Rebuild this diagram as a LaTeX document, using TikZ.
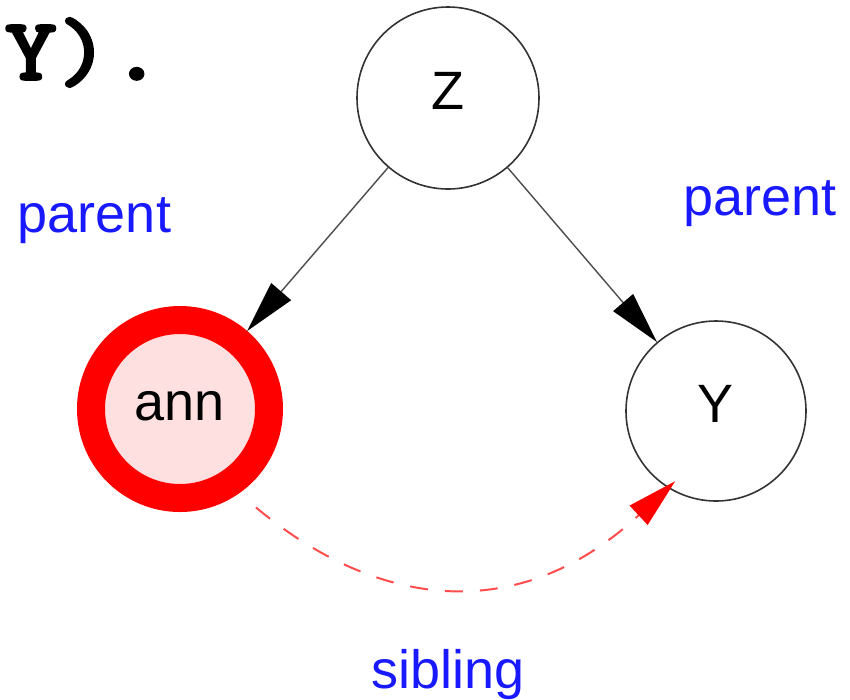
\documentclass[tikz,border=0pt]{standalone}
\usepackage{fontspec}
\setmainfont{Liberation Sans}
\newfontfamily\codefont[FakeBold=1.8, FakeStretch=1.12]{lmmonolt10-bold.otf}
\usepackage{tikz}
\usetikzlibrary{arrows.meta,positioning}

\definecolor{labelblue}{RGB}{25,25,255}
\definecolor{annfill}{RGB}{255,224,224}

\begin{document}
\begin{tikzpicture}[
  on grid,
  every node/.style={font=\fontsize{27pt}{30pt}\selectfont},
  state/.style={circle, draw=black!80, line width=0.8pt, minimum size=90pt, text height=19pt, text depth=8pt},
  focus/.style={state, draw=red, fill=annfill, line width=14pt, minimum size=89pt},
  lbl/.style={text=labelblue, inner sep=0pt, anchor=base},
  arr/.style={-{Triangle[length=26pt, width=13pt, black]}, draw=black!70, line width=0.7pt},
  sib/.style={-{Triangle[length=25pt, width=13pt, red]}, draw=red!70, line width=1pt, dash pattern=on 9pt off 8.5pt}
]
\node[state, minimum size=91pt] (Z) at (0,0) {Z};
\node[focus, below left=155.5pt and 134pt of Z] (ann) {ann};
\node[state, below right=156.5pt and 134pt of Z] (Y) {Y};

\node[lbl, below left=67pt and 176.75pt of Z, anchor=base] (pl) {parent};
\node[lbl, below right=58.5pt and 156pt of Z, anchor=base] (pr) {parent};
\node[lbl, below=295pt of Z, anchor=base] (sl) {sibling};
\node[above left=9pt and 222pt of Z, anchor=base west, inner sep=0pt,
      font=\codefont\fontsize{45pt}{48pt}\selectfont] (code) {Y).};

\draw[arr] (Z) -- (ann);
\draw[arr] (Z) -- (Y);
\draw[sib, shorten <=11pt, shorten >=-5pt] (ann.-55) .. controls (-32pt,-258pt) and (38pt,-262pt) .. (Y.238);

\useasboundingbox (-224pt,-300pt) rectangle (201pt,49pt);
\end{tikzpicture}
\end{document}
